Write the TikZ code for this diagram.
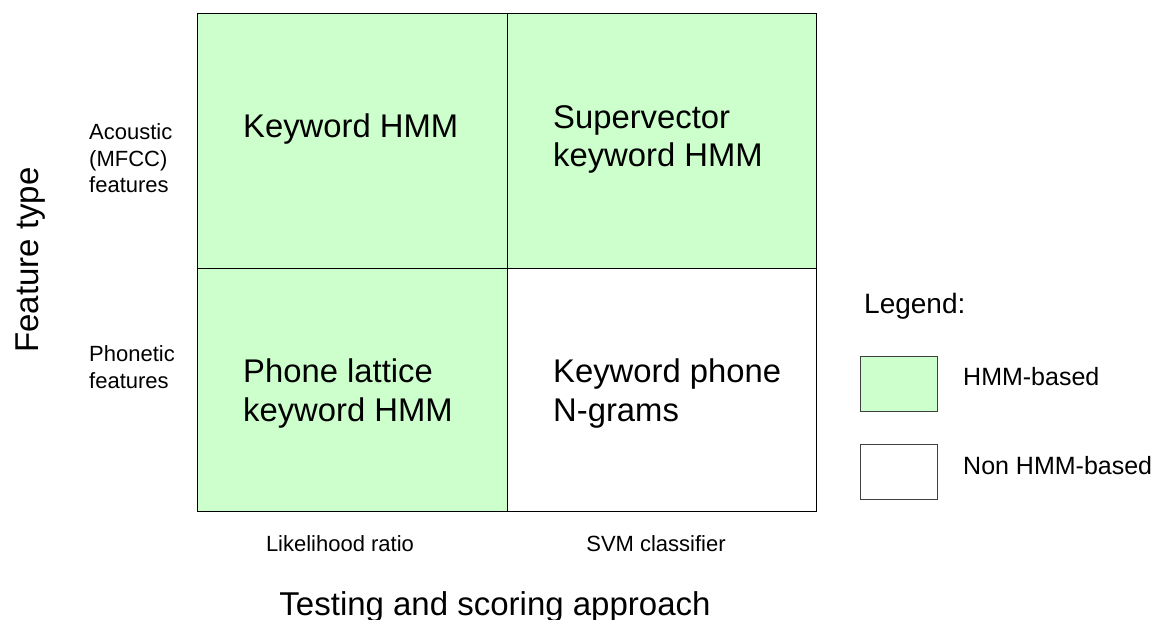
\documentclass[tikz,border=0pt]{standalone}
\usepackage{fontspec}
\setmainfont{Liberation Sans}
\definecolor{hmmgreen}{HTML}{CCFFCC}
\definecolor{legline}{HTML}{404040}
\tikzset{
  cell/.style={draw=black, line width=1.1pt, inner sep=0pt, anchor=north west},
  big/.style={anchor=base west, inner sep=0pt, font=\fontsize{32.8}{38.5}\selectfont, align=left},
  small/.style={anchor=base west, inner sep=0pt, font=\fontsize{22}{26.5}\selectfont, align=left},
  axis/.style={inner sep=0pt, font=\fontsize{33}{38}\selectfont},
  legbox/.style={draw=legline, line width=1.1pt, minimum width=77pt, minimum height=55pt, inner sep=0pt, anchor=north west},
  legtext/.style={anchor=base west, inner sep=0pt, font=\fontsize{25}{28}\selectfont},
}
\begin{document}
\begin{tikzpicture}[x=1pt,y=-1pt]
\useasboundingbox (0,0) rectangle (1158,620);
% grid cells
\node[cell, fill=hmmgreen, minimum width=310pt, minimum height=255pt] (c11) at (197,13) {};
\node[cell, fill=hmmgreen, minimum width=309pt, minimum height=255pt] (c12) at (507,13) {};
\node[cell, fill=hmmgreen, minimum width=310pt, minimum height=243pt] (c21) at (197,268) {};
\node[cell, fill=white, minimum width=309pt, minimum height=243pt] (c22) at (507,268) {};
% cell texts (anchor at baseline of last line)
\node[big] (t11) at (243,138) {Keyword HMM};
\node[big] (t12) at (553,167) {Supervector\\keyword HMM};
\node[big] (t21) at (243,421) {Phone lattice\\keyword HMM};
\node[big] (t22) at (553,421) {Keyword phone\\N-grams};
% row labels
\node[small] (r1) at (89,193) {Acoustic\\(MFCC)\\features};
\node[small] (r2) at (89,388) {Phonetic\\features};
% column labels
\node[small, anchor=base] (k1) at (340,551) {Likelihood ratio};
\node[small, anchor=base] (k2) at (656,551) {SVM classifier};
% axis titles
\node[axis, anchor=base] (xt) at (495,615) {Testing and scoring approach};
\node[axis, rotate=90, anchor=base] (yt) at (38,260) {Feature type};
% legend
\node[anchor=base west, inner sep=0pt, font=\fontsize{28}{32}\selectfont] (lt) at (864,313) {Legend:};
\node[legbox, fill=hmmgreen] (l1) at (860,356) {};
\node[legbox, fill=white] (l2) at (860,444) {};
\node[legtext] (l1t) at (963,385) {HMM-based};
\node[legtext] (l2t) at (963,474) {Non HMM-based};
\end{tikzpicture}
\end{document}
